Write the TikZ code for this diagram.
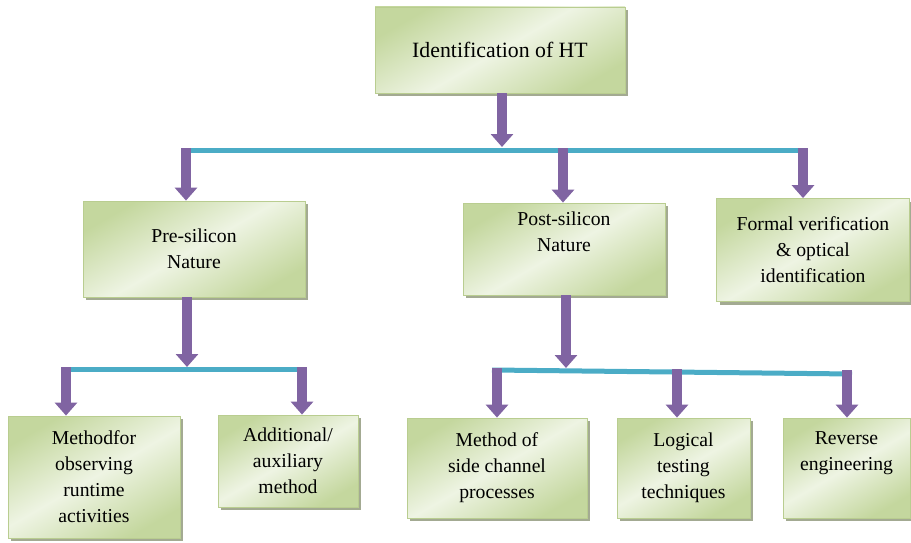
\documentclass[tikz,border=0pt]{standalone}
\usepackage{fontspec}
\newfontfamily\boxfont{Liberation Serif}
\usetikzlibrary{arrows.meta,shadows}
\definecolor{boxedge}{HTML}{B9CD90}
\definecolor{boxdark}{HTML}{C4D79E}
\definecolor{boxlight}{HTML}{EEF4E3}
\definecolor{boxshade}{HTML}{A3AA92}
\definecolor{arrowpurple}{HTML}{8064A2}
\definecolor{baraqua}{HTML}{4BACC6}
\begin{document}
\begin{tikzpicture}[x=1pt,y=-1pt,
  box/.style={draw=boxedge, line width=0.8pt,
    top color=boxdark, bottom color=boxdark, middle color=boxlight,
    shading angle=30,
    drop shadow={shadow xshift=3pt, shadow yshift=-3pt, fill=boxshade, opacity=1},
    align=center, inner sep=0pt,
    font=\boxfont\fontsize{19.7}{26}\selectfont},
  title/.style={font=\boxfont\fontsize{21.8}{26}\selectfont},
  blk/.style={draw=arrowpurple, fill=arrowpurple, line width=10pt,
    -{Triangle[width=22pt,length=13pt]}},
  bar/.style={draw=baraqua, line width=5pt}
]
\useasboundingbox (0,0) rectangle (911,543);

% boxes
\node[box, title, minimum width=250pt, minimum height=86pt] (top) at (500,50) {Identification of HT};
\node[box, minimum width=222pt, minimum height=96pt] (pre) at (194,249) {Pre-silicon\\Nature};
\node[box, minimum width=202pt, minimum height=92pt] (post) at (564,249) {Post-silicon\\Nature\\\strut};
\node[box, minimum width=193pt, minimum height=103pt] (formal) at (813,250) {Formal verification\\\& optical\\identification};
\node[box, minimum width=172pt, minimum height=122pt] (runtime) at (94,477) {Methodfor\\observing\\runtime\\activities};
\node[box, minimum width=140pt, minimum height=92pt] (aux) at (288,461) {Additional/\\auxiliary\\method};
\node[box, minimum width=180pt, minimum height=100pt] (side) at (497,468) {Method of\\side channel\\processes};
\node[box, minimum width=133pt, minimum height=100pt] (logic) at (683.5,468) {Logical\\testing\\techniques};
\node[box, minimum width=127pt, minimum height=100pt] (rev) at (846.5,468) {Reverse\\engineering\\\strut};

% distribution bars
\coordinate (mainL) at (181,150);
\coordinate (mainR) at (808,150);
\coordinate (preL) at (61,369);
\coordinate (preR) at (305,369);
\coordinate (postL) at (492,370);
\coordinate (postR) at (852,374);
\draw[bar] (mainL) -- (mainR);
\draw[bar] (preL) -- (preR);
\draw[bar] (postL) -- (postR);

% drop points on the bars
\coordinate (hub) at (502,147);
\coordinate (toPre) at (186,148);
\coordinate (toPost) at (563,148);
\coordinate (toFormal) at (803,148);
\coordinate (preHub) at (187,367);
\coordinate (toRuntime) at (66,367);
\coordinate (toAux) at (302,367);
\coordinate (postHub) at (566,368);
\coordinate (toSide) at (497,368);
\coordinate (toLogic) at (677,369);
\coordinate (toRev) at (847,370);

% arrows
\draw[blk] (top.south -| hub) -- (hub);
\draw[blk] (toPre) -- (toPre |- pre.north);
\draw[blk] (toPost) -- (toPost |- post.north);
\draw[blk] (toFormal) -- (toFormal |- formal.north);
\draw[blk] (pre.south -| preHub) -- (preHub);
\draw[blk] (toRuntime) -- (toRuntime |- runtime.north);
\draw[blk] (toAux) -- (toAux |- aux.north);
\draw[blk] (post.south -| postHub) -- (postHub);
\draw[blk] (toSide) -- (toSide |- side.north);
\draw[blk] (toLogic) -- (toLogic |- logic.north);
\draw[blk] (toRev) -- (toRev |- rev.north);
\end{tikzpicture}
\end{document}
